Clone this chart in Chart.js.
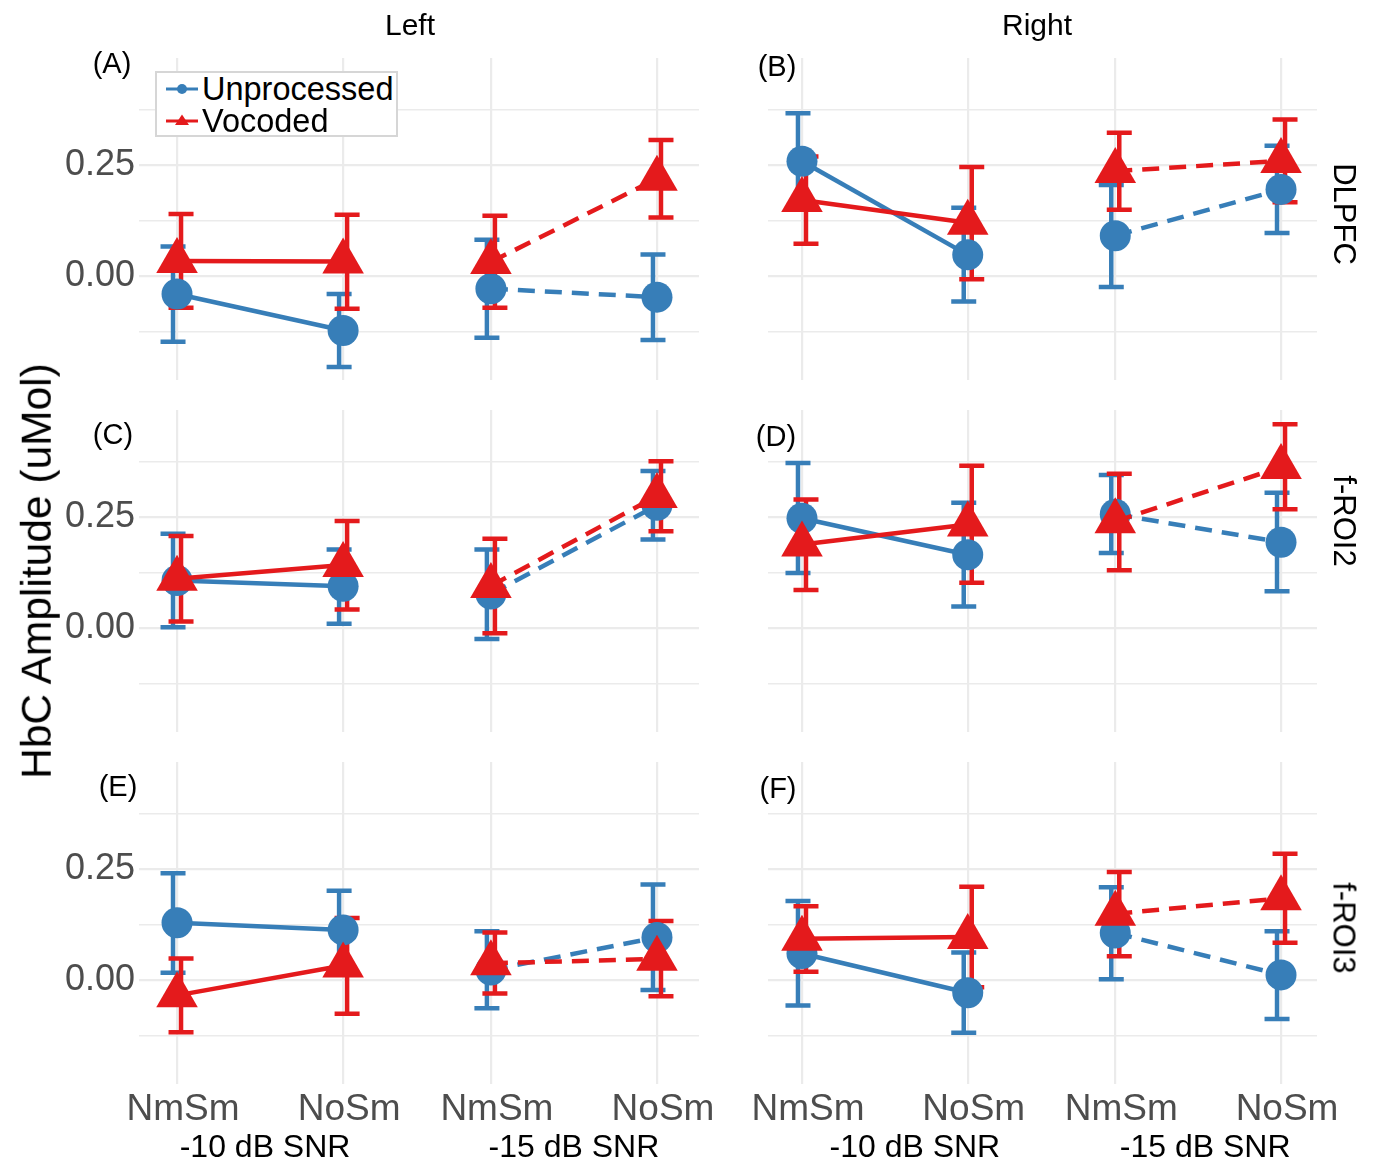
<!DOCTYPE html>
<html>
<head>
<meta charset="utf-8">
<title>HbC Amplitude</title>
<script src="https://cdn.jsdelivr.net/npm/chart.js@4.4.1/dist/chart.umd.min.js"></script>
<style>
  body { margin: 0; background: #fff; }
  #fig { position: relative; width: 1373px; height: 1162px; overflow: hidden; background: #fff;
         font-family: "Liberation Sans", Arial, sans-serif; }
  #fig canvas { position: absolute; left: 0; top: 0; }
  .lbl { position: absolute; transform: translate(-50%, -50%); white-space: nowrap; color: #000; line-height: 1; }
  #legend { position: absolute; box-sizing: border-box; background: #fff; border: 2px solid #d6d6d6; padding: 0 0 0 8px; }
  #legend .item { display: flex; align-items: center; height: 32px; font-size: 32.5px; color: #000; }
  #legend svg { margin-right: 3px; }
</style>
</head>
<body>
<div id="fig"></div>
<script>
const hemispheres = ['Left', 'Right'];
const regions = ['DLPFC', 'f-ROI2', 'f-ROI3'];
const panelTags = ['(A)', '(B)', '(C)', '(D)', '(E)', '(F)'];
const seriesNames = ['Unprocessed', 'Vocoded'];
const conditions = ['NmSm', 'NoSm', 'NmSm', 'NoSm'];
const snrGroups = ['-10 dB SNR', '-15 dB SNR'];
const conditionPos = [1, 2, 2.89, 3.89];
const yTicks = [-0.125, 0, 0.125, 0.25, 0.375];
const yLabelled = [0, 0.25];

// one row per panel (A..F), one value per condition
const unprocMean = [
  [-0.040, -0.122, -0.028, -0.047],
  [0.258, 0.048, 0.091, 0.195],
  [0.107, 0.094, 0.077, 0.276],
  [0.247, 0.165, 0.256, 0.193],
  [0.129, 0.113, 0.023, 0.096],
  [0.060, -0.028, 0.106, 0.012]
];
const unprocLow = [
  [-0.147, -0.204, -0.138, -0.143],
  [0.150, -0.057, -0.024, 0.097],
  [0.002, 0.010, -0.024, 0.199],
  [0.124, 0.049, 0.169, 0.083],
  [0.017, 0.025, -0.063, -0.022],
  [-0.057, -0.118, 0.002, -0.087]
];
const unprocHigh = [
  [0.067, -0.040, 0.082, 0.049],
  [0.366, 0.154, 0.205, 0.293],
  [0.212, 0.177, 0.177, 0.353],
  [0.371, 0.282, 0.344, 0.304],
  [0.240, 0.201, 0.110, 0.215],
  [0.178, 0.062, 0.209, 0.110]
];
const vocMean = [
  [0.034, 0.033, 0.032, 0.219],
  [0.171, 0.120, 0.236, 0.259],
  [0.111, 0.142, 0.095, 0.297],
  [0.188, 0.233, 0.240, 0.362],
  [-0.034, 0.033, 0.038, 0.048],
  [0.093, 0.097, 0.149, 0.184]
];
const vocLow = [
  [-0.071, -0.073, -0.071, 0.132],
  [0.073, -0.007, 0.149, 0.166],
  [0.015, 0.042, -0.011, 0.218],
  [0.086, 0.102, 0.130, 0.267],
  [-0.117, -0.075, -0.030, -0.036],
  [0.019, -0.016, 0.054, 0.084]
];
const vocHigh = [
  [0.140, 0.138, 0.136, 0.306],
  [0.269, 0.245, 0.322, 0.352],
  [0.207, 0.241, 0.201, 0.375],
  [0.289, 0.365, 0.347, 0.458],
  [0.049, 0.140, 0.107, 0.133],
  [0.166, 0.210, 0.243, 0.284]
];

// layout
const W = 1373, H = 1162;
const colLeft = [139, 768], colRight = [699, 1317];
const rowTop = [58, 410, 762], panelH = 322;
const yRange = [-0.233, 0.49];
const xRange = [[0.771, 4.143], [0.795, 4.107]];
const snrShift = [[5, 0], [30, 7]];
const blue = '#377EB8', red = '#E41A1C', tickGrey = '#4D4D4D', gridGrey = '#EBEBEB';
const fontFamily = '"Liberation Sans", Arial, sans-serif';

const fig = document.getElementById('fig');

Chart.defaults.font.family = fontFamily;
Chart.defaults.animation = false;

function series(name, mean, lo, hi, color, shape, radius, dodge, order) {
  return {
    label: name,
    data: conditionPos.map((x, i) => ({ x: x, y: mean[i] })),
    lo: lo, hi: hi, dodge: dodge, order: order,
    borderColor: color,
    backgroundColor: color,
    borderWidth: 4.5,
    tension: 0,
    pointStyle: shape,
    pointRadius: radius,
    pointBorderWidth: 0,
    pointHoverRadius: radius,
    clip: false,
    segment: {
      // no line between the two SNR groups, dashed inside -15 dB
      borderColor: c => c.p0DataIndex === 1 ? 'rgba(0,0,0,0)' : color,
      borderDash: c => c.p0DataIndex === 2 ? [17, 10] : []
    }
  };
}

function makePanel(row, col) {
  const p = row * 2 + col;
  const canvas = document.createElement('canvas');
  canvas.width = W;
  canvas.height = H;
  fig.appendChild(canvas);

  const yAxisW = col === 0 ? colLeft[0] : 0;
  const xAxisH = row === 2 ? 78 : 0;
  const bottom = rowTop[row] + panelH;

  const errorBars = {
    id: 'errorBars',
    beforeDatasetsDraw(chart) {
      const { ctx, scales: { x, y } } = chart;
      ctx.save();
      ctx.lineWidth = 4.5;
      ctx.lineCap = 'butt';
      chart.data.datasets.forEach(ds => {
        ctx.strokeStyle = ds.borderColor;
        ds.data.forEach((pt, i) => {
          const px = x.getPixelForValue(pt.x) + ds.dodge;
          const top = y.getPixelForValue(ds.hi[i]);
          const bot = y.getPixelForValue(ds.lo[i]);
          ctx.beginPath();
          ctx.moveTo(px - 12.5, top); ctx.lineTo(px + 12.5, top);
          ctx.moveTo(px, top); ctx.lineTo(px, bot);
          ctx.moveTo(px - 12.5, bot); ctx.lineTo(px + 12.5, bot);
          ctx.stroke();
        });
      });
      ctx.restore();
    }
  };

  const snrText = {
    id: 'snrText',
    afterDraw(chart) {
      if (row !== 2) return;
      const { ctx, scales: { x } } = chart;
      ctx.save();
      ctx.font = '32px ' + fontFamily;
      ctx.fillStyle = '#000';
      ctx.textAlign = 'center';
      ctx.textBaseline = 'middle';
      snrGroups.forEach((g, k) => {
        const mid = (x.getPixelForValue(conditionPos[2 * k]) + x.getPixelForValue(conditionPos[2 * k + 1])) / 2;
        ctx.fillText(g, mid + snrShift[col][k], chart.chartArea.bottom + 64);
      });
      ctx.restore();
    }
  };

  new Chart(canvas, {
    type: 'line',
    data: {
      datasets: [
        series(seriesNames[0], unprocMean[p], unprocLow[p], unprocHigh[p], blue, 'circle', 15.5, -4, 1),
        series(seriesNames[1], vocMean[p], vocLow[p], vocHigh[p], red, 'triangle', 24, 4, 0)
      ]
    },
    options: {
      responsive: false,
      animation: false,
      events: [],
      layout: {
        padding: {
          left: colLeft[col] - yAxisW,
          right: W - colRight[col],
          top: rowTop[row],
          bottom: H - bottom - xAxisH
        }
      },
      plugins: { legend: { display: false }, tooltip: { enabled: false } },
      scales: {
        x: {
          type: 'linear',
          min: xRange[col][0],
          max: xRange[col][1],
          afterBuildTicks: s => { s.ticks = conditionPos.map(v => ({ value: v })); },
          afterFit: s => { s.height = xAxisH; },
          ticks: {
            display: row === 2,
            autoSkip: false,
            maxRotation: 0,
            padding: 4,
            labelOffset: 6,
            color: tickGrey,
            font: { size: 37 },
            callback: (v, i) => conditions[i]
          },
          grid: { color: gridGrey, lineWidth: 2.2, drawTicks: false },
          border: { display: false }
        },
        y: {
          min: yRange[0],
          max: yRange[1],
          afterBuildTicks: s => { s.ticks = yTicks.map(v => ({ value: v })); },
          afterFit: s => { s.width = yAxisW; },
          ticks: {
            display: col === 0,
            padding: 4,
            color: tickGrey,
            font: { size: 36 },
            callback: v => yLabelled.includes(v) ? v.toFixed(2) : ''
          },
          grid: {
            color: gridGrey,
            lineWidth: c => yLabelled.includes(c.tick.value) ? 2.2 : 1.4,
            drawTicks: false
          },
          border: { display: false }
        }
      }
    },
    plugins: [errorBars, snrText]
  });
}

for (let r = 0; r < 3; r++) {
  for (let c = 0; c < 2; c++) makePanel(r, c);
}

// text around the panels
function addLabel(text, x, y, size, rotate) {
  const d = document.createElement('div');
  d.className = 'lbl';
  d.textContent = text;
  d.style.left = x + 'px';
  d.style.top = y + 'px';
  d.style.fontSize = size + 'px';
  if (rotate) d.style.transform = 'translate(-50%, -50%) rotate(' + rotate + 'deg)';
  fig.appendChild(d);
}

const stripX = [410, 1037];
hemispheres.forEach((h, i) => addLabel(h, stripX[i], 25, 30));

const regionY = [214, 521, 928];
regions.forEach((r, i) => addLabel(r, 1344, regionY[i], 31, 90));

const tagPos = [[112, 63], [777, 66], [113, 434], [776, 436], [118, 786], [778, 788]];
panelTags.forEach((t, i) => addLabel(t, tagPos[i][0], tagPos[i][1], 29));

addLabel('HbC Amplitude (uMol)', 37, 571, 42.5, -90);

// legend inside panel A
const legend = document.createElement('div');
legend.id = 'legend';
legend.style.left = '155px';
legend.style.top = '71px';
legend.style.width = '243px';
legend.style.height = '66px';
const marks = [
  '<circle cx="17" cy="8" r="5" fill="' + blue + '"/>',
  '<polygon points="17,1.5 24,12 10,12" fill="' + red + '"/>'
];
const legendColors = [blue, red];
seriesNames.forEach((name, i) => {
  const item = document.createElement('div');
  item.className = 'item';
  item.innerHTML = '<svg width="34" height="16"><line x1="1" y1="8" x2="33" y2="8" stroke="' +
    legendColors[i] + '" stroke-width="3"/>' + marks[i] + '</svg><span>' + name + '</span>';
  legend.appendChild(item);
});
fig.appendChild(legend);
</script>
</body>
</html>
